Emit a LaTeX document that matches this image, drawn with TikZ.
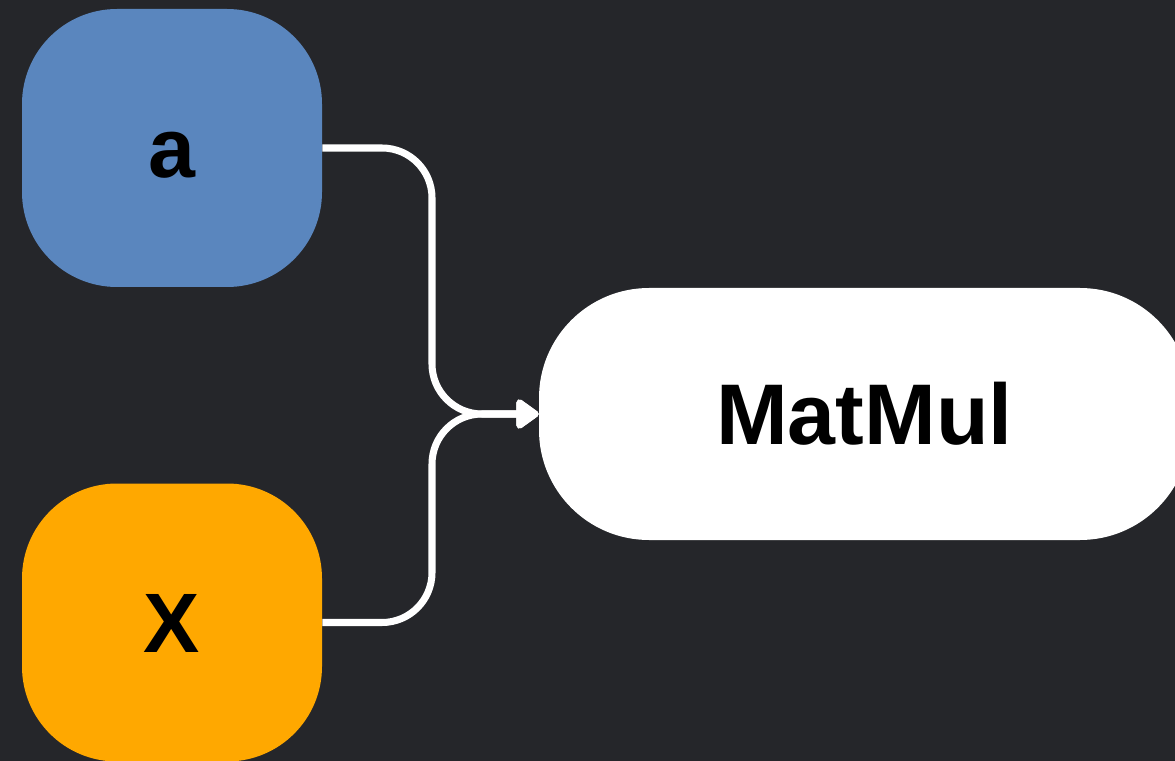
\documentclass[tikz,border=0pt]{standalone}
\usepackage{fontspec}
\setmainfont{Liberation Sans}
\usepackage{xcolor}
\usepackage{tikz}
\usetikzlibrary{arrows.meta}

\definecolor{canvas}{HTML}{25262A}
\definecolor{inblue}{HTML}{5A86BE}
\definecolor{inorange}{HTML}{FFA800}

\tikzset{
  tensor/.style={rectangle, rounded corners=1.9cm, minimum width=6cm, minimum height=5.56cm,
    inner sep=0pt, text height=1.2cm, text depth=0pt,
    font=\bfseries\fontsize{48}{50}\selectfont, text=black},
  opbox/.style={rectangle, rounded corners=2.2cm, fill=white, minimum width=13.02cm,
    minimum height=5.04cm, inner sep=0pt, text height=1.2cm, text depth=0pt,
    font=\bfseries\fontsize{49}{50}\selectfont, text=black},
  wire/.style={draw=white, line width=4pt, rounded corners=1cm,
    -{Triangle[width=19pt,length=14pt,round]}}
}

\begin{document}
\begin{tikzpicture}

% ===================== canvas =====================
\fill[canvas] (0,0) rectangle (23.5,-15.22);
\useasboundingbox (0,0) rectangle (23.5,-15.22);

% ===================== inputs and op =====================
\node[tensor, fill=inblue]   (a)  at (3.44,-2.96)  {a};
\node[tensor, fill=inorange] (x)  at (3.44,-12.45) {X};
\node[opbox]                 (mm) at (17.29,-8.28) {MatMul};

% ---- both inputs join just before the op ----
\coordinate (join) at (8.64,-8.28);
\draw[wire] (a.east) -| (join) -- (mm.west);
\draw[wire] (x.east) -| (join) -- (mm.west);

\end{tikzpicture}
\end{document}
